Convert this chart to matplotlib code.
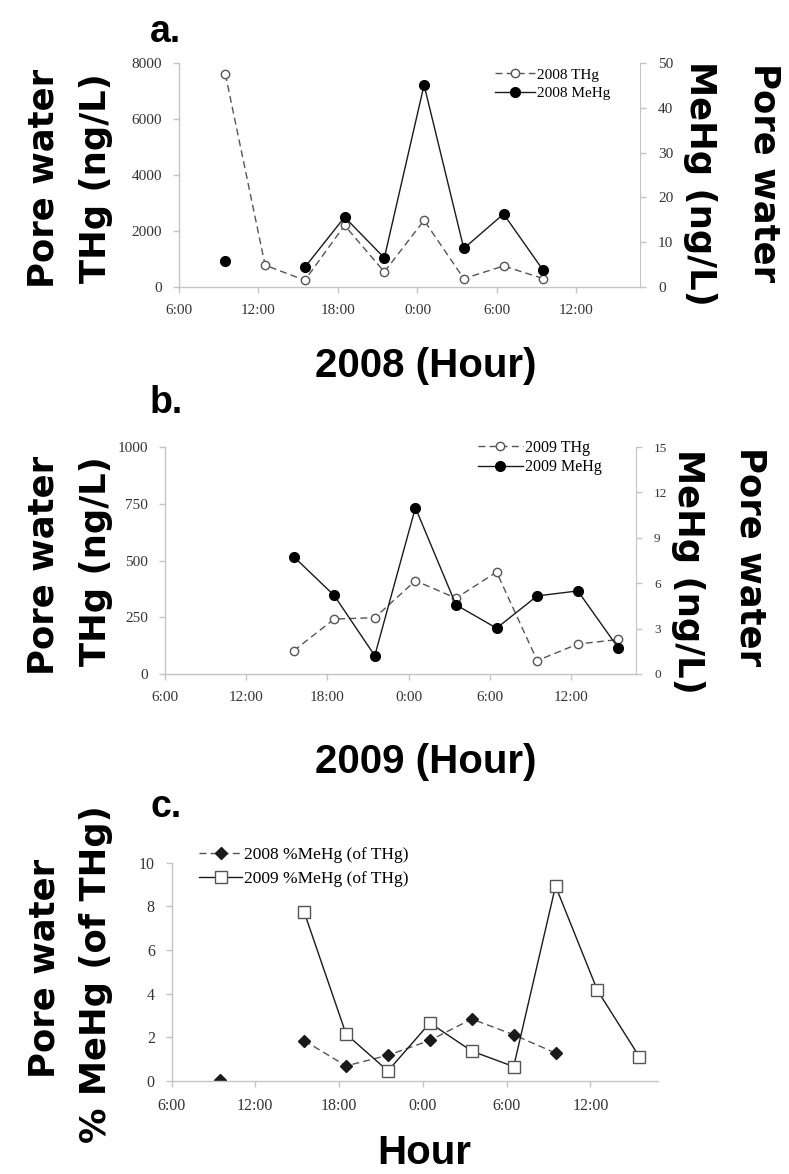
import matplotlib
matplotlib.use("Agg")
import matplotlib.pyplot as plt
import numpy as np

# ---------------- data (hours since 0:00 of first day) ----------------
hours_2008 = [9.5, 12.5, 15.5, 18.5, 21.5, 24.5, 27.5, 30.5, 33.5]
thg_2008 = [7600, 780, 240, 2200, 540, 2380, 300, 750, 300]
mehg_2008 = [5.7, np.nan, 4.4, 15.6, 6.5, 45.1, 8.6, 16.3, 3.7]

hours_2009 = [15.5, 18.5, 21.5, 24.5, 27.5, 30.5, 33.5, 36.5, 39.5]
thg_2009 = [102, 242, 248, 411, 334, 449, 59, 132, 152]
mehg_2009 = [7.76, 5.19, 1.21, 10.99, 4.57, 3.03, 5.16, 5.49, 1.71]

pct_2008 = [0.05, np.nan, 1.85, 0.69, 1.18, 1.86, 2.84, 2.12, 1.28]
pct_2009 = [7.74, 2.15, 0.46, 2.66, 1.37, 0.66, 8.93, 4.15, 1.11]

xticks_hours = [6, 12, 18, 24, 30, 36]
xtick_labels = ["6:00", "12:00", "18:00", "0:00", "6:00", "12:00"]

# ---------------- figure ----------------
W, H = 789, 1174
plt.rcParams['font.family'] = ['Liberation Serif', 'DejaVu Serif']
fig = plt.figure(figsize=(W / 100, H / 100), dpi=100)

def fx(x):
    return x / W

def fy(y):
    return 1 - y / H

def add_axes(l, r, t, b):
    return fig.add_axes([fx(l), fy(b), fx(r) - fx(l), fy(t) - fy(b)])

SPINE = '#c4c4c4'
TICKC = '#333333'
THG_C = '#555555'
MEHG_C = '#1a1a1a'

def style_axis(ax, right=False, fs=11):
    ax.spines['top'].set_visible(False)
    for s in ['left', 'bottom', 'right']:
        ax.spines[s].set_color(SPINE)
        ax.spines[s].set_linewidth(1.0)
    if not right:
        ax.spines['right'].set_visible(False)
    ax.tick_params(axis='both', colors=SPINE, labelcolor=TICKC, labelsize=fs,
                   length=4, width=1, direction='out')
    ax.tick_params(axis='x', pad=8)
    ax.tick_params(axis='y', pad=8)
    ax.set_xlim(6, 40.8)
    ax.set_xticks(xticks_hours)
    ax.set_xticklabels(xtick_labels)

def style_twin(ax2, fs):
    for s in ['top', 'left', 'bottom']:
        ax2.spines[s].set_visible(False)
    ax2.spines['right'].set_color(SPINE)
    ax2.tick_params(axis='y', colors=SPINE, labelcolor=TICKC, labelsize=fs,
                    length=4, width=1, pad=9)

BIG = dict(family=['DejaVu Sans'], weight='bold', fontsize=25.5, color='black')
XL = dict(family=['Liberation Sans'], weight='bold', fontsize=29, color='black')
TL = dict(family=['Liberation Sans'], weight='bold', fontsize=27, color='black')

# ---------------- panel a ----------------
axa = add_axes(179, 640, 63, 287)
style_axis(axa, fs=11)
axa.set_ylim(0, 8000)
axa.set_yticks([0, 2000, 4000, 6000, 8000])
axa2 = axa.twinx()
axa2.set_ylim(0, 50)
axa2.set_yticks([0, 10, 20, 30, 40, 50])
style_twin(axa2, 11)
axa.set_xlim(6, 40.8)

la1, = axa.plot(hours_2008, thg_2008, ls=(0, (5, 3)), color=THG_C, lw=1.0,
                marker='o', ms=6, mfc='white', mec=THG_C, mew=1.0, label='2008 THg')
la2, = axa2.plot(hours_2008, mehg_2008, ls='-', color=MEHG_C, lw=1.0,
                 marker='o', ms=7, mfc='black', mec='black', label='2008 MeHg')
axa2.legend(handles=[la1, la2], loc='upper left', bbox_to_anchor=(fx(495), fy(68)),
            bbox_transform=fig.transFigure, frameon=False, borderpad=0, borderaxespad=0,
            handlelength=2.6, handletextpad=0.15, labelspacing=0.3, numpoints=1,
            prop=dict(family='Liberation Serif', size=11))

fig.text(fx(150), fy(42), 'a.', ha='left', va='baseline', **TL)
fig.text(fx(44), fy(178), 'Pore water', rotation=90, ha='center', va='center', **BIG)
fig.text(fx(96), fy(178), 'THg (ng/L)', rotation=90, ha='center', va='center', **BIG)
fig.text(fx(700), fy(183), 'MeHg (ng/L)', rotation=270, ha='center', va='center', **BIG)
fig.text(fx(765), fy(173), 'Pore water', rotation=270, ha='center', va='center', **BIG)
fig.text(fx(426), fy(366), '2008 (Hour)', ha='center', va='center', **XL)

# ---------------- panel b ----------------
axb = add_axes(165, 636, 447, 674)
style_axis(axb, fs=11)
axb.set_ylim(0, 1000)
axb.set_yticks([0, 250, 500, 750, 1000])
axb2 = axb.twinx()
axb2.set_ylim(0, 15)
axb2.set_yticks([0, 3, 6, 9, 12, 15])
style_twin(axb2, 9.5)
axb.set_xlim(6, 40.8)

lb1, = axb.plot(hours_2009, thg_2009, ls=(0, (5, 3)), color=THG_C, lw=1.0,
                marker='o', ms=6, mfc='white', mec=THG_C, mew=1.0, label='2009 THg')
lb2, = axb2.plot(hours_2009, mehg_2009, ls='-', color=MEHG_C, lw=1.0,
                 marker='o', ms=7, mfc='black', mec='black', label='2009 MeHg')
axb2.legend(handles=[lb1, lb2], loc='upper left', bbox_to_anchor=(fx(478), fy(440)),
            bbox_transform=fig.transFigure, frameon=False, borderpad=0, borderaxespad=0,
            handlelength=2.8, handletextpad=0.15, labelspacing=0.2, numpoints=1,
            prop=dict(family='Liberation Serif', size=11.5))

fig.text(fx(150), fy(413), 'b.', ha='left', va='baseline', **TL)
fig.text(fx(44), fy(565), 'Pore water', rotation=90, ha='center', va='center', **BIG)
fig.text(fx(96), fy(561), 'THg (ng/L)', rotation=90, ha='center', va='center', **BIG)
fig.text(fx(688), fy(571), 'MeHg (ng/L)', rotation=270, ha='center', va='center', **BIG)
fig.text(fx(750), fy(557), 'Pore water', rotation=270, ha='center', va='center', **BIG)
fig.text(fx(426), fy(762), '2009 (Hour)', ha='center', va='center', **XL)

# ---------------- panel c ----------------
axc = add_axes(171.5, 657.5, 862.7, 1081)
style_axis(axc, fs=11.5)
axc.set_ylim(0, 10)
axc.set_yticks([0, 2, 4, 6, 8, 10])

lc1, = axc.plot(hours_2008, pct_2008, ls=(0, (5, 3)), color=THG_C, lw=1.0,
                marker='D', ms=6, mfc='#1a1a1a', mec='#1a1a1a', label='2008 %MeHg (of THg)')
lc2, = axc.plot(hours_2009, pct_2009, ls='-', color=MEHG_C, lw=1.0,
                marker='s', ms=9, mfc='white', mec=THG_C, mew=1.0, label='2009 %MeHg (of THg)')
axc.legend(handles=[lc1, lc2], loc='upper left', bbox_to_anchor=(fx(199), fy(847)),
           bbox_transform=fig.transFigure, frameon=False, borderpad=0, borderaxespad=0,
           handlelength=2.5, handletextpad=0.12, labelspacing=0.45, numpoints=1,
           prop=dict(family='Liberation Serif', size=12.5))

fig.text(fx(151), fy(817), 'c.', ha='left', va='baseline', **TL)
fig.text(fx(45), fy(968), 'Pore water', rotation=90, ha='center', va='center', **BIG)
fig.text(fx(96), fy(974), '% MeHg (of THg)', rotation=90, ha='center', va='center', **BIG)
fig.text(fx(424), fy(1153), 'Hour', ha='center', va='center', **XL)

fig.savefig('out.png', dpi=100)
